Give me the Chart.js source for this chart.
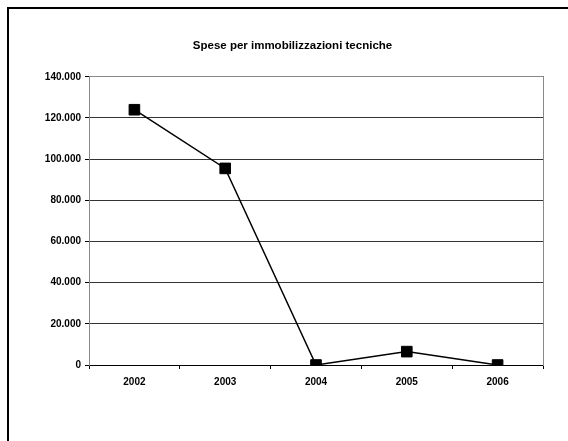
<!DOCTYPE html>
<html>
<head>
<meta charset="utf-8">
<script src="https://cdn.jsdelivr.net/npm/chart.js@4/dist/chart.umd.min.js"></script>
<style>
  html, body { margin: 0; padding: 0; background: #fff; }
  #wrap { position: relative; width: 568px; height: 441px; }
  #frame { position: absolute; left: 7px; top: 7px; right: 0; bottom: 0;
           border-top: 2px solid #000; border-left: 2px solid #000; pointer-events: none; }
  canvas { position: absolute; left: 0; top: 0; }
</style>
</head>
<body>
<div id="wrap">
  <canvas id="chart" width="568" height="441"></canvas>
  <div id="frame"></div>
</div>
<script>
const years = ['2002', '2003', '2004', '2005', '2006']
const spese = [124000, 95500, 0, 6500, 0]
const yMax = 140000
const yStep = 20000

// 140000 -> "140.000"
function formatIt(v) {
  return String(v).replace(/\B(?=(\d{3})+(?!\d))/g, '.')
}

const font = { family: 'Liberation Sans, Arial, sans-serif', size: 10, weight: 'bold' }

const ctx = document.getElementById('chart')
new Chart(ctx, {
  type: 'line',
  data: {
    labels: years,
    datasets: [{
      label: 'Spese per immobilizzazioni tecniche',
      data: spese,
      borderColor: '#000',
      borderWidth: 1.5,
      backgroundColor: '#000',
      pointStyle: 'rect',
      pointRadius: 7.5,
      pointBorderWidth: 1,
      pointBorderColor: '#000',
      pointBackgroundColor: '#000',
      tension: 0
    }]
  },
  options: {
    responsive: false,
    animation: false,
    layout: { padding: { top: 39, left: 17, right: 0, bottom: 46 } },
    plugins: {
      legend: { display: false },
      tooltip: { enabled: false },
      title: {
        display: true,
        text: 'Spese per immobilizzazioni tecniche',
        color: '#000',
        font: { family: font.family, size: 11.5, weight: 'bold', lineHeight: 1.2 },
        padding: { top: 0, bottom: 24 }
      }
    },
    scales: {
      x: {
        offset: true,
        border: { color: '#000', width: 1 },
        grid: { offset: true, drawOnChartArea: false, drawTicks: true, tickLength: 4, color: '#000' },
        ticks: { color: '#000', font: font, padding: 7, maxRotation: 0 },
        afterFit: s => { s.height = 30 }
      },
      y: {
        min: 0,
        max: yMax,
        border: { color: '#888', width: 1 },
        grid: {
          color: c => c.tick && c.tick.value === yMax ? '#888' : '#333',
          tickColor: '#000',
          tickLength: 4,
          lineWidth: 1
        },
        ticks: { stepSize: yStep, color: '#000', font: font, padding: 4, callback: v => formatIt(v) },
        afterFit: s => { s.width = 72 }
      },
      y2: {
        position: 'right',
        min: 0,
        max: yMax,
        border: { color: '#888', width: 1 },
        grid: { display: false },
        ticks: { display: false },
        afterFit: s => { s.width = 25 }
      }
    }
  }
})
</script>
</body>
</html>
